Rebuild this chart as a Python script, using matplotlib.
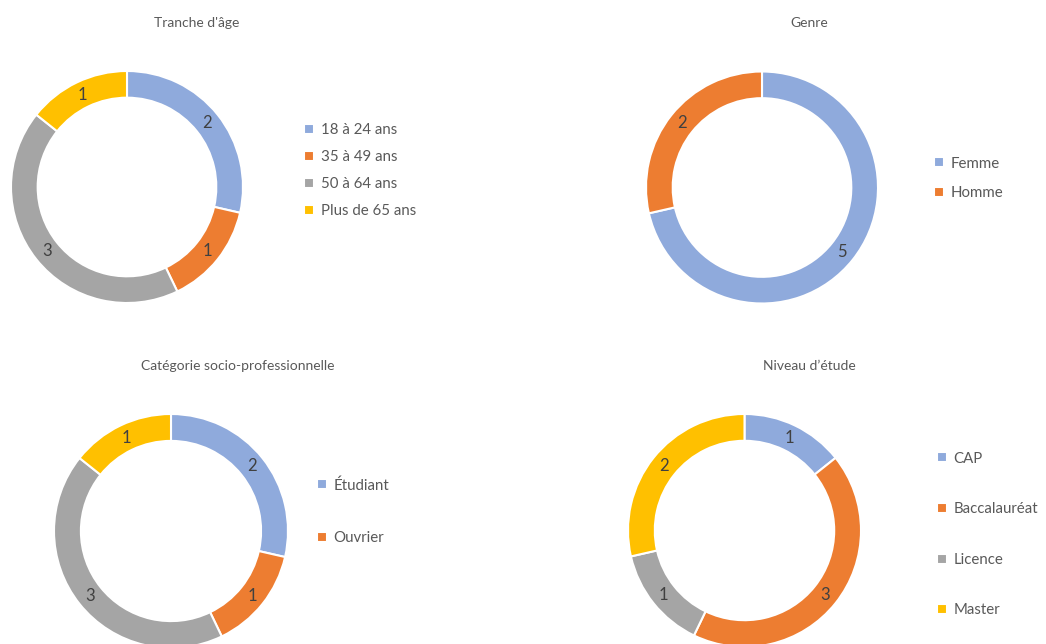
import matplotlib
matplotlib.use("Agg")
import matplotlib.pyplot as plt

plt.rcParams['font.family'] = ['Lato', 'DejaVu Sans']

# ---- data ----
age_labels = ['18 à 24 ans', '35 à 49 ans', '50 à 64 ans', 'Plus de 65 ans']
age_values = [2, 1, 3, 1]

genre_labels = ['Femme', 'Homme']
genre_values = [5, 2]

csp_labels = ['Étudiant', 'Ouvrier', 'Retraité', 'Autre']
csp_values = [2, 1, 3, 1]
csp_legend_shown = 2

etude_labels = ['CAP', 'Baccalauréat', 'Licence', 'Master']
etude_values = [1, 3, 1, 2]

colors = ['#8FAADC', '#ED7D31', '#A5A5A5', '#FFC000']

W, H = 1046, 644
fig = plt.figure(figsize=(W / 100, H / 100), dpi=100)
fig.patch.set_facecolor('white')


def px_to_fig(x, y):
    return x / W, 1 - y / H


def donut(cx, cy, r, values, labels, title, title_xy, leg_xy, leg_spacing, n_leg=None):
    pad = 1.06
    R = r * pad
    ax = fig.add_axes([(cx - R) / W, (H - cy - R) / H, 2 * R / W, 2 * R / H])
    total = sum(values)
    wedges, _, autotexts = ax.pie(
        values, colors=colors[:len(values)], startangle=90, counterclock=False,
        radius=1, wedgeprops=dict(width=0.23, edgecolor='white', linewidth=1.5),
        autopct=lambda p: f"{round(p * total / 100)}", pctdistance=0.885,
        textprops=dict(color='#404040', fontsize=12))
    ax.set_xlim(-pad, pad)
    ax.set_ylim(-pad, pad)
    ax.set_aspect('equal')
    ax.axis('off')
    tx, ty = px_to_fig(*title_xy)
    fig.text(tx, ty, title, ha='center', va='center', fontsize=10, color='#595959')
    if n_leg is None:
        n_leg = len(values)
    lx, ly = px_to_fig(*leg_xy)
    fig.legend(wedges[:n_leg], labels[:n_leg], loc='center left',
               bbox_to_anchor=(lx, ly), frameon=False, fontsize=10.8,
               labelcolor='#595959', handlelength=0.65, handleheight=0.65,
               handletextpad=0.45, labelspacing=leg_spacing, borderpad=0,
               borderaxespad=0)


donut(127, 187, 116, age_values, age_labels, "Tranche d'âge", (197, 23),
      (304, 170.5), 0.87)
donut(762, 187.5, 116, genre_values, genre_labels, "Genre", (809, 23),
      (934, 178.5), 1.05)
donut(171, 531, 117, csp_values, csp_labels, "Catégorie socio-professionnelle",
      (238, 366), (317, 511.5), 2.55, n_leg=csp_legend_shown)
donut(744.5, 530.5, 116.5, etude_values, etude_labels, "Niveau d’étude", (809, 366),
      (937, 534.5), 2.44)

fig.savefig('out.png', dpi=100, facecolor='white')
